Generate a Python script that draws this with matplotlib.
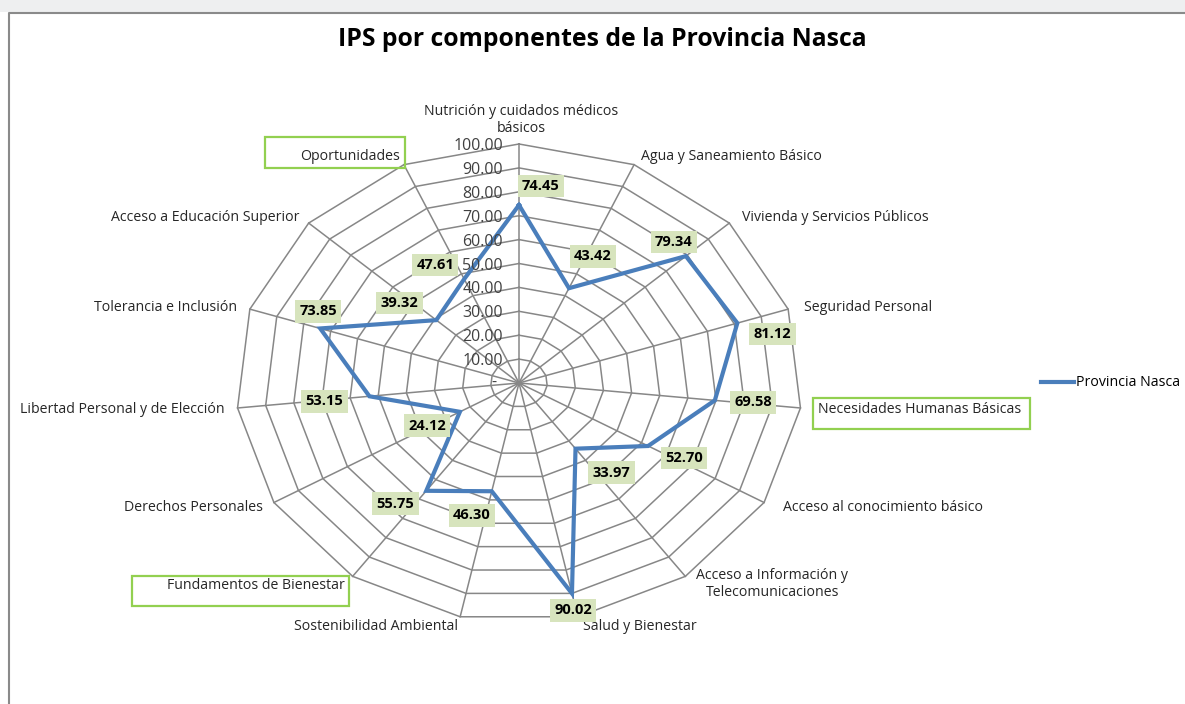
import numpy as np
import matplotlib
matplotlib.use("Agg")
from matplotlib import pyplot as plt
from matplotlib.patches import Rectangle

plt.rcParams['font.family'] = ['Open Sans', 'DejaVu Sans']

# data (clockwise from the top)
categorias = ["Nutrición y cuidados médicos\nbásicos", "Agua y Saneamiento Básico",
              "Vivienda y Servicios Públicos", "Seguridad Personal",
              "Necesidades Humanas Básicas", "Acceso al conocimiento básico",
              "Acceso a Información y\nTelecomunicaciones", "Salud y Bienestar",
              "Sostenibilidad Ambiental", "Fundamentos de Bienestar",
              "Derechos Personales", "Libertad Personal y de Elección",
              "Tolerancia e Inclusión", "Acceso a Educación Superior",
              "Oportunidades"]
valores = [74.45, 43.42, 79.34, 81.12, 69.58, 52.70, 33.97, 90.02,
           46.30, 55.75, 24.12, 53.15, 73.85, 39.32, 47.61]
niveles = [0, 10, 20, 30, 40, 50, 60, 70, 80, 90, 100]
serie = "Provincia Nasca"

# label placement (offset in pixels, y up, alignment)
cat_pos = [((2, 8), 'center', 'bottom'), ((7, 8), 'left', 'center'),
           ((13, 6), 'left', 'center'), ((16, 2), 'left', 'center'),
           ((18, -2), 'left', 'center'), ((19, -5), 'left', 'center'),
           ((11, -8), 'left', 'center'), ((5, -10), 'left', 'center'),
           ((-2, -10), 'right', 'center'), ((-8, -9), 'right', 'center'),
           ((-11, -5), 'right', 'center'), ((-13, -2), 'right', 'center'),
           ((-13, 2), 'right', 'center'), ((-9, 6), 'right', 'center'),
           ((-4, 8), 'right', 'center')]
# green boxes around the dimension labels: (dx, dy from text anchor, width, height) px
caja = {"Necesidades Humanas Básicas": (-5, -19, 217, 31),
        "Fundamentos de Bienestar": (-213, -21, 217, 30),
        "Oportunidades": (-135, -11, 140, 31)}
# data label offsets in image pixels (y down)
lab_off = [(22, -19), (24, -32), (-12, -14), (35, 11), (38, 2), (36, 12),
           (36, 24), (1, 17), (-20, 24), (-31, 13), (-33, 14), (-45, 5),
           (-2, -17), (-37, -17), (-29, -14)]

W, H = 1185, 704
cx, cy = 519, 383
rx, ry = 283, 239

fig = plt.figure(figsize=(W / 100, H / 100), dpi=100)
ax = fig.add_axes([0, 0, 1, 1])
ax.set_xlim(-cx / rx * 100, (W - cx) / rx * 100)
ax.set_ylim(-(H - cy) / ry * 100, cy / ry * 100)
ax.axis('off')

n = len(categorias)
ang = np.deg2rad(np.arange(n) * 360 / n)
ux, uy = np.sin(ang), np.cos(ang)

gris = '#878787'
for lv in niveles[1:]:
    ax.plot(np.append(ux, ux[0]) * lv, np.append(uy, uy[0]) * lv, color=gris, lw=1.1, zorder=1)
for i in range(n):
    ax.plot([0, ux[i] * 100], [0, uy[i] * 100], color=gris, lw=1.1, zorder=1)

v = np.array(valores)
ax.plot(np.append(ux * v, ux[0] * v[0]), np.append(uy * v, uy[0] * v[0]),
        color='#4a7ebb', lw=3, zorder=3, solid_joinstyle='miter', label=serie)

# radial tick labels
for lv in niveles:
    txt = '-' if lv == 0 else f'{lv:.2f}'
    ax.annotate(txt, (0, lv), xytext=(-22 if lv == 0 else -16, -2 if lv else 0),
                textcoords='offset pixels', ha='right', va='center',
                fontsize=11.5, color='#404040', zorder=4)

# category labels
for i, c in enumerate(categorias):
    off, ha, va = cat_pos[i]
    ax.annotate(c, (ux[i] * 100, uy[i] * 100), xytext=off, textcoords='offset pixels',
                ha=ha, va=va, fontsize=10.2, color='#262626', multialignment='center',
                zorder=4)
    if c in caja:
        dx, dy, w, h = caja[c]
        px, py = ax.transData.transform((ux[i] * 100, uy[i] * 100))
        fig.patches.append(Rectangle((px + off[0] + dx, py + off[1] + dy), w, h,
                                     transform=None, fill=False, ec='#92d050', lw=1.6))

# data labels
for i, val in enumerate(valores):
    ox, oy = lab_off[i]
    ax.annotate(f'{val:.2f}', (ux[i] * val, uy[i] * val), xytext=(ox, -oy),
                textcoords='offset pixels', ha='center', va='center',
                fontsize=10.5, fontweight='bold', color='black', zorder=5,
                bbox=dict(boxstyle='square,pad=0.3', fc='#d7e4bd', ec='none'))

fig.text(602 / W, 1 - 40 / H, 'IPS por componentes de la Provincia Nasca',
         ha='center', va='center', fontsize=17.8, fontweight='bold', color='black')

leg = ax.legend(loc='center left', bbox_to_anchor=(1034 / W, 1 - 383 / H),
                bbox_transform=fig.transFigure, frameon=False, fontsize=10.2,
                handlelength=2.3, handletextpad=0.2, borderpad=0)

# chart area border and faded header strip
fig.patches.append(Rectangle((0, H - 12), W, 12, transform=None, fc='#eeeff0', ec='none', zorder=0))
fig.add_artist(plt.Line2D([9 / W, 9 / W, 1], [0, 1 - 12.5 / H, 1 - 12.5 / H],
                          transform=fig.transFigure, color='#8a8a8a', lw=1.5))

fig.savefig('out.png', dpi=100)
